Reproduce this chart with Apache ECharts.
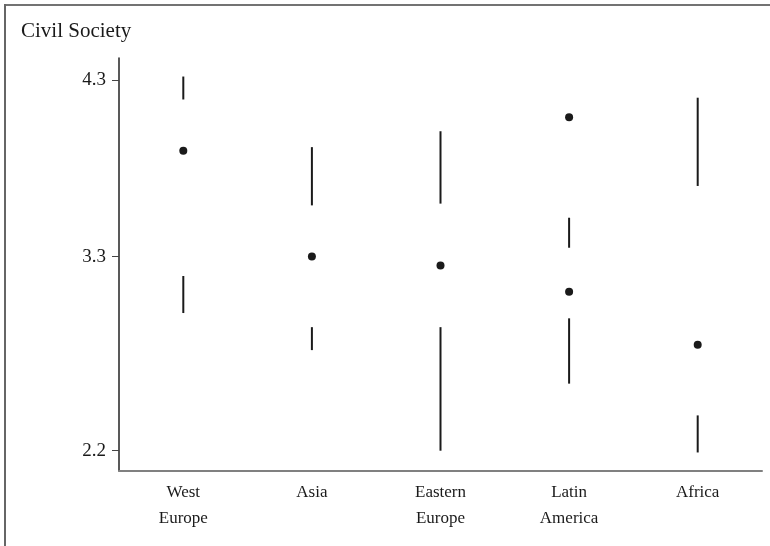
<!DOCTYPE html>
<html>
<head>
<meta charset="utf-8">
<script src="https://cdn.jsdelivr.net/npm/echarts@6/dist/echarts.min.js"></script>
<style>html,body{margin:0;padding:0;background:#fff;}#chart{width:770px;height:546px;}</style>
</head>
<body>
<div id="chart"></div>
<script>
var categories = ['West\nEurope', 'Asia', 'Eastern\nEurope', 'Latin\nAmerica', 'Africa'];
var mins    = [2.98, 2.77, 2.20, 2.58, 2.19];
var q1s     = [3.19, 2.90, 2.90, 2.95, 2.40];
var medians = [3.90, 3.30, 3.25, 3.10, 2.80];
var q3s     = [4.19, 3.59, 3.60, 3.35, 3.70];
var maxs    = [4.32, 3.92, 4.01, 3.52, 4.20];
var outliers = [[3, 4.09]];
var yTicks = [2.2, 3.3, 4.3];

var boxData = categories.map(function (c, i) {
  return [i, mins[i], q1s[i], medians[i], q3s[i], maxs[i]];
});

var ink = '#1a1a1a';
var serif = '"Liberation Serif", "DejaVu Serif", serif';

var chart = echarts.init(document.getElementById('chart'));
chart.setOption({
  animation: false,
  backgroundColor: '#fff',
  grid: { left: 119, right: 8, top: 58, bottom: 75 },
  graphic: [
    { type: 'line', shape: { x1: 4, y1: 5, x2: 770, y2: 5 }, style: { stroke: '#444', lineWidth: 1.5 } },
    { type: 'line', shape: { x1: 5, y1: 4, x2: 5, y2: 546 }, style: { stroke: '#666', lineWidth: 2 } },
    { type: 'text', left: 21, top: 21, style: { text: 'Civil Society', font: '21px ' + serif, fill: '#1a1a1a' } }
  ],
  xAxis: {
    type: 'category',
    data: categories,
    boundaryGap: true,
    axisLine: { lineStyle: { color: '#808080', width: 2 } },
    axisTick: { show: false },
    axisLabel: { color: '#1a1a1a', fontFamily: serif, fontSize: 17, lineHeight: 26, margin: 9, interval: 0 },
    splitLine: { show: false }
  },
  yAxis: {
    type: 'value',
    min: 2.085,
    max: 4.425,
    axisLine: { show: true, lineStyle: { color: '#222', width: 1.5 } },
    axisTick: { show: true, length: 7, customValues: yTicks, lineStyle: { color: '#444', width: 1 } },
    axisLabel: { customValues: yTicks, color: '#1a1a1a', fontFamily: serif, fontSize: 19, margin: 13,
      formatter: function (v) { return v.toFixed(1); } },
    splitLine: { show: false }
  },
  series: [
    {
      type: 'custom',
      data: boxData,
      renderItem: function (params, api) {
        var x = api.value(0);
        var pMin = api.coord([x, api.value(1)]);
        var pQ1 = api.coord([x, api.value(2)]);
        var pMed = api.coord([x, api.value(3)]);
        var pQ3 = api.coord([x, api.value(4)]);
        var pMax = api.coord([x, api.value(5)]);
        var ls = { stroke: ink, lineWidth: 2 };
        return {
          type: 'group',
          children: [
            { type: 'line', shape: { x1: pMin[0], y1: pMin[1], x2: pQ1[0], y2: pQ1[1] }, style: ls },
            { type: 'line', shape: { x1: pQ3[0], y1: pQ3[1], x2: pMax[0], y2: pMax[1] }, style: ls },
            { type: 'circle', shape: { cx: pMed[0], cy: pMed[1], r: 4 }, style: { fill: ink } }
          ]
        };
      }
    },
    {
      type: 'scatter',
      data: outliers,
      symbol: 'circle',
      symbolSize: 8,
      itemStyle: { color: ink, opacity: 1 }
    }
  ]
});
</script>
</body>
</html>
